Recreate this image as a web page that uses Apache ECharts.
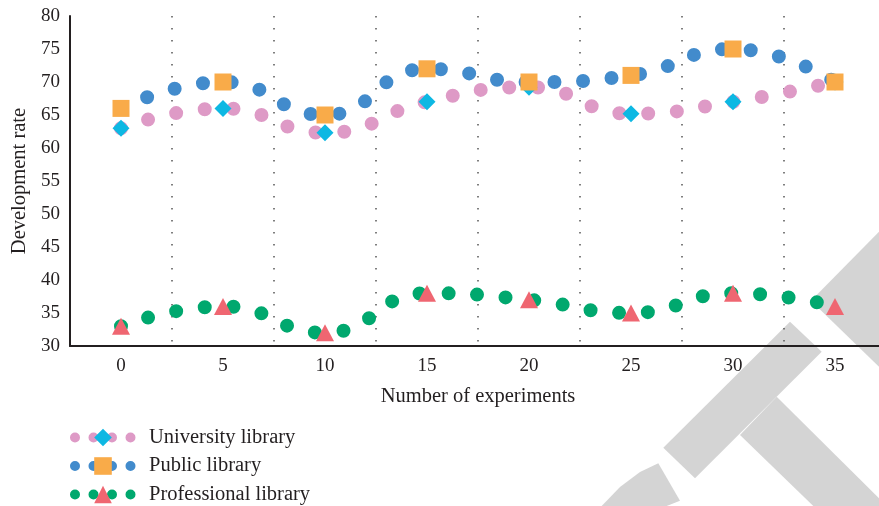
<!DOCTYPE html>
<html>
<head>
<meta charset="utf-8">
<script src="https://cdn.jsdelivr.net/npm/echarts@6/dist/echarts.min.js"></script>
<style>
  html, body { margin: 0; padding: 0; background: #fff; }
  #chart { width: 879px; height: 506px; }
</style>
</head>
<body>
<div id="chart"></div>
<script>
// Experiment counts on the x axis
const experiments = ['0', '5', '10', '15', '20', '25', '30', '35'];
// Development rate per library type
const university = [63, 66, 62.3, 67, 69.2, 65.2, 67, 70];
const publicLib = [66, 70, 65, 72, 70, 71, 75, 70];
const professional = [33, 36, 32, 38, 37, 35, 38, 36];
// Y-axis range
const yMin = 30, yMax = 80, yStep = 5;

const serif = 'Liberation Serif';
const ink = '#231f20';

function dottedSeries(name, values, lineColor, symbol, symbolColor, size) {
  return {
    name: name,
    type: 'line',
    data: values,
    smooth: 0.5,
    symbol: symbol,
    symbolSize: size,
    showSymbol: true,
    itemStyle: { color: symbolColor, opacity: 1 },
    lineStyle: { color: lineColor, width: 14, type: [0, 28.7], cap: 'round' },
    emphasis: { disabled: true },
    animation: false
  };
}

const chart = echarts.init(document.getElementById('chart'), null, { renderer: 'canvas' });

chart.setOption({
  backgroundColor: '#fff',
  animation: false,
  grid: { left: 70, top: 16, width: 816, height: 330, outerBoundsMode: 'none' },
  xAxis: {
    type: 'category',
    data: experiments,
    boundaryGap: true,
    name: 'Number of experiments',
    nameLocation: 'middle',
    nameGap: 40,
    nameTextStyle: { fontFamily: serif, fontSize: 20.5, color: ink },
    axisLine: { lineStyle: { color: ink, width: 2 } },
    axisTick: { show: false },
    axisLabel: { interval: 0, margin: 11, fontFamily: serif, fontSize: 19, color: ink },
    splitLine: { show: true, interval: 0, lineStyle: { color: '#555', width: 1.5, type: [1.5, 10.5] } }
  },
  yAxis: {
    type: 'value',
    min: yMin,
    max: yMax,
    interval: yStep,
    name: 'Development rate',
    nameLocation: 'middle',
    nameGap: 40,
    nameTextStyle: { fontFamily: serif, fontSize: 20.5, color: ink },
    axisLine: { show: true, lineStyle: { color: ink, width: 2 } },
    axisTick: { show: false },
    axisLabel: { margin: 10, fontFamily: serif, fontSize: 19, color: ink },
    splitLine: { show: false }
  },
  legend: {
    orient: 'vertical',
    left: 70,
    top: 427,
    height: 110,
    padding: 0,
    itemWidth: 56,
    itemHeight: 22,
    itemGap: 7.5,
    selectedMode: false,
    lineStyle: { width: 10, type: [0, 18.5], cap: 'round' },
    textStyle: { fontFamily: serif, fontSize: 20.5, color: ink, padding: [0, 0, 0, 13] },
    data: ['University library', 'Public library', 'Professional library']
  },
  graphic: [
    { type: 'polygon', z: -10, silent: true, shape: { points: [[811, 300.7], [879, 231.7], [879, 366.7]] }, style: { fill: '#d4d4d4' } },
    { type: 'polygon', z: -10, silent: true, shape: { points: [[790, 321.7], [821.7, 351.7], [695, 478.3], [663.3, 447.7]] }, style: { fill: '#d4d4d4' } },
    { type: 'polygon', z: -10, silent: true, shape: { points: [[776.7, 396.7], [879, 498.3], [879, 506], [813.3, 506], [740, 435]] }, style: { fill: '#d4d4d4' } },
    { type: 'polygon', z: -10, silent: true, shape: { points: [[601.7, 506], [620, 487], [640, 472], [658.3, 463.3], [680, 500.7], [666.7, 506]] }, style: { fill: '#d4d4d4' } }
  ],
  series: [
    dottedSeries('University library', university, '#de9ac6', 'diamond', '#0db8e3', [17, 17]),
    dottedSeries('Public library', publicLib, '#428bcc', 'rect', '#f9ab49', 17),
    dottedSeries('Professional library', professional, '#00a86e', 'triangle', '#ef6671', [18, 17])
  ]
});
</script>
</body>
</html>
